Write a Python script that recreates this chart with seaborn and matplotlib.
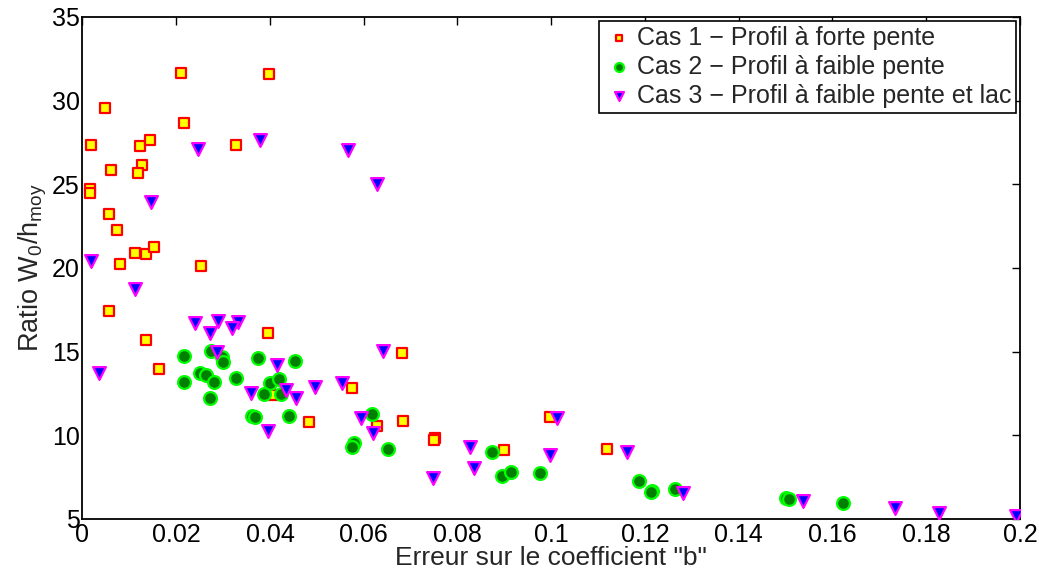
import numpy as np
import pandas as pd
import matplotlib
matplotlib.use("Agg")
import matplotlib.pyplot as plt
import seaborn as sns

# ==============================
# DONNEES
# ==============================
cas1_err = [0.0015, 0.0017, 0.0018, 0.0048, 0.0060, 0.0123, 0.0144, 0.0126,
            0.0119, 0.0210, 0.0217, 0.0328, 0.0398, 0.0056, 0.0073, 0.0112,
            0.0135, 0.0153, 0.0079, 0.0253, 0.0057, 0.0135, 0.0395, 0.0163,
            0.0406, 0.0484, 0.0681, 0.0574, 0.0628, 0.0683, 0.0752, 0.0750,
            0.0899, 0.0997, 0.1120]
cas1_ratio = [24.70, 24.50, 27.35, 29.57, 25.86, 27.30, 27.63, 26.14,
              25.70, 31.64, 28.69, 27.36, 31.58, 23.23, 22.27, 20.92,
              20.86, 21.28, 20.24, 20.12, 17.45, 15.68, 16.10, 13.95,
              12.41, 10.82, 14.94, 12.81, 10.56, 10.86, 9.82, 9.70,
              9.12, 11.08, 9.18]

cas2_err = [0.0217, 0.0217, 0.0274, 0.0297, 0.0299, 0.0251, 0.0263, 0.0281,
            0.0271, 0.0328, 0.0375, 0.0453, 0.0399, 0.0419, 0.0388, 0.0424,
            0.0362, 0.0368, 0.0441, 0.0618, 0.0580, 0.0576, 0.0651, 0.0874,
            0.0894, 0.0914, 0.0976, 0.1187, 0.1214, 0.1212, 0.1263, 0.1501,
            0.1507, 0.1622]
cas2_ratio = [14.76, 13.20, 15.06, 14.70, 14.40, 13.71, 13.61, 13.21,
              12.25, 13.45, 14.60, 14.46, 13.11, 13.37, 12.47, 12.47,
              11.16, 11.08, 11.16, 11.26, 9.56, 9.28, 9.17, 8.99,
              7.57, 7.83, 7.73, 7.27, 6.69, 6.63, 6.77, 6.27,
              6.18, 5.94]

cas3_err = [0.0246, 0.0379, 0.0566, 0.0629, 0.0146, 0.0018, 0.0112, 0.0241,
            0.0290, 0.0331, 0.0273, 0.0320, 0.0288, 0.0036, 0.0416, 0.0359,
            0.0434, 0.0455, 0.0496, 0.0396, 0.0642, 0.0553, 0.0594, 0.0619,
            0.0747, 0.0827, 0.0835, 0.0997, 0.1012, 0.1162, 0.1282, 0.1537,
            0.1734, 0.1827, 0.1991]
cas3_ratio = [27.10, 27.65, 27.06, 25.03, 23.97, 20.42, 18.73, 16.73,
              16.83, 16.79, 16.10, 16.40, 15.00, 13.71, 14.20, 12.55,
              12.71, 12.21, 12.91, 10.28, 15.06, 13.11, 11.02, 10.16,
              7.43, 9.28, 8.03, 8.83, 11.06, 9.03, 6.57, 6.10,
              5.64, 5.34, 5.20]

labels = ["Cas 1 \u2212 Profil à forte pente",
          "Cas 2 \u2212 Profil à faible pente",
          "Cas 3 \u2212 Profil à faible pente et lac"]

xticks = [0, 0.02, 0.04, 0.06, 0.08, 0.1, 0.12, 0.14, 0.16, 0.18, 0.2]
xtick_labels = ["0", "0.02", "0.04", "0.06", "0.08", "0.1", "0.12",
                "0.14", "0.16", "0.18", "0.2"]
yticks = [5, 10, 15, 20, 25, 30, 35]

# ==============================
# STYLE
# ==============================
sns.set_style("white")
plt.rcParams["font.family"] = ["Liberation Sans", "DejaVu Sans"]
plt.rcParams["mathtext.fontset"] = "custom"
plt.rcParams["mathtext.rm"] = "Liberation Sans"
plt.rcParams["mathtext.default"] = "regular"

fig = plt.figure(figsize=(10.39, 5.76), dpi=100)
ax = fig.add_axes([0.0794, 0.099, 0.9023, 0.8715])

df1 = pd.DataFrame({"err": cas1_err, "ratio": cas1_ratio})
df2 = pd.DataFrame({"err": cas2_err, "ratio": cas2_ratio})
df3 = pd.DataFrame({"err": cas3_err, "ratio": cas3_ratio})

sns.scatterplot(data=df1, x="err", y="ratio", ax=ax, marker="s", s=45,
                color="#ffff00", edgecolor="#ff0000", linewidth=1.6,
                label=labels[0], zorder=3)
sns.scatterplot(data=df2, x="err", y="ratio", ax=ax, marker="o", s=85,
                color="#007f00", edgecolor="#00ff00", linewidth=1.6,
                label=labels[1], zorder=3)
sns.scatterplot(data=df3, x="err", y="ratio", ax=ax, marker="v", s=85,
                color="#0000ff", edgecolor="#ff00ff", linewidth=1.6,
                label=labels[2], zorder=3)

ax.set_xlim(0, 0.2)
ax.set_ylim(5, 35)
ax.set_xticks(xticks)
ax.set_xticklabels(xtick_labels)
ax.set_yticks(yticks)

ax.tick_params(direction="in", length=6, width=1, top=True, right=True,
               labelsize=18, pad=2, colors="black")
ax.tick_params(axis="x", pad=3)
for sp in ax.spines.values():
    sp.set_color("black")
    sp.set_linewidth(1.3)

ax.set_xlabel('Erreur sur le coefficient "b"', fontsize=19, labelpad=-1)
ax.set_ylabel(r"Ratio W$_0$/h$_{moy}$", fontsize=19.5, labelpad=2)

leg = ax.legend(loc="upper right", fontsize=18, frameon=True,
                fancybox=False, edgecolor="black", framealpha=1,
                borderaxespad=0.15, handletextpad=0.1, handlelength=1.2,
                labelspacing=0.2, borderpad=0.2, markerscale=0.7)
leg.get_frame().set_linewidth(1.2)

plt.savefig("out.png", dpi=100)
